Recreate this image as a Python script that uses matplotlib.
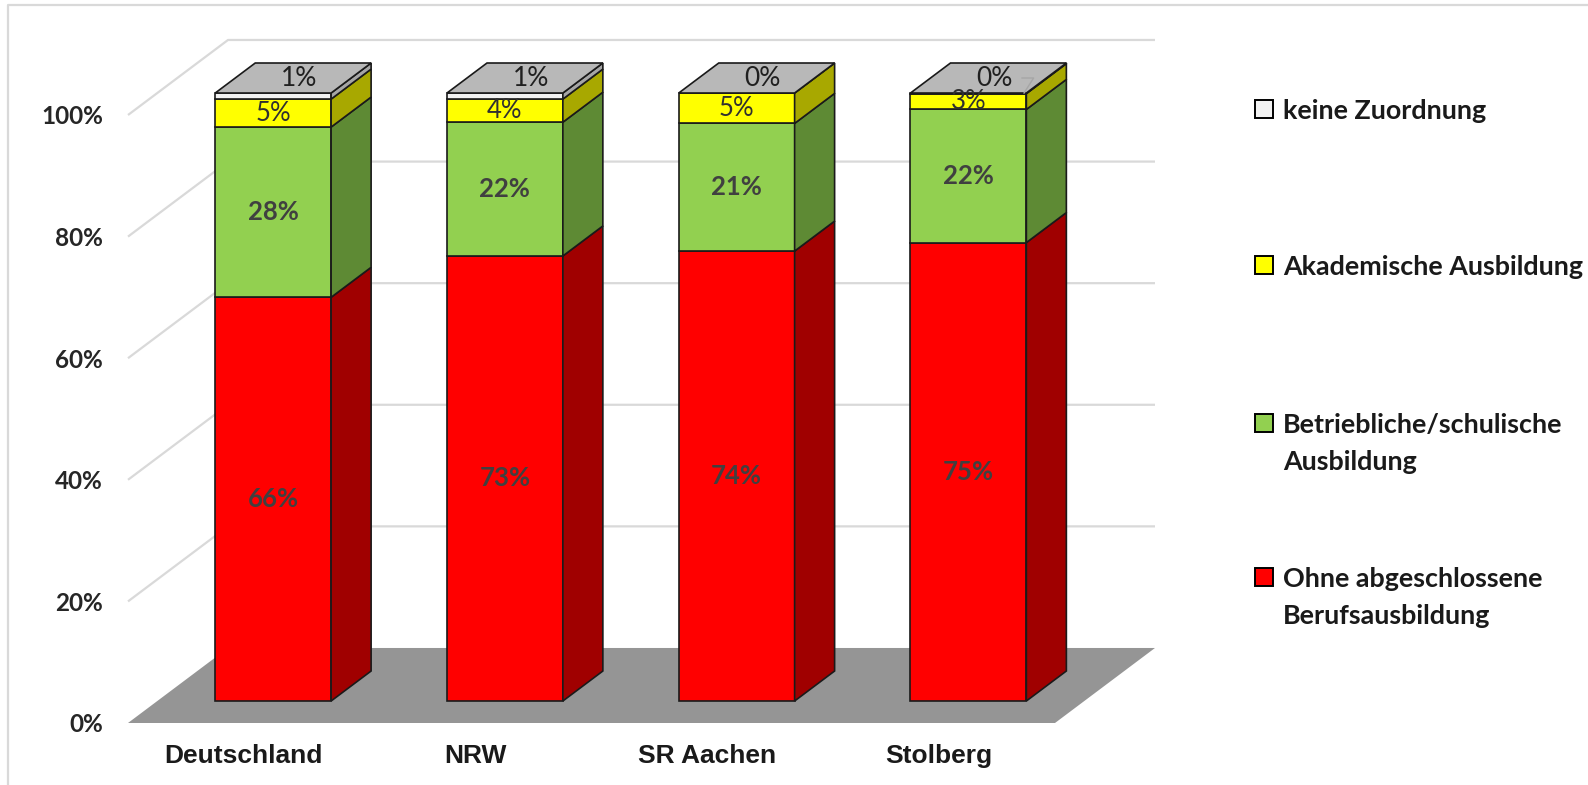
import matplotlib.pyplot as plt
from matplotlib.patches import Polygon, Rectangle
from matplotlib.lines import Line2D

categories = ["Deutschland", "NRW", "SR Aachen", "Stolberg"]
ohne = [66.4, 73.2, 74.0, 75.4]
betrieb = [28.0, 22.0, 21.0, 21.9]
akad = [4.6, 3.8, 5.0, 2.6]
keine = [1.0, 1.0, 0.0, 0.1]

series = [ohne, betrieb, akad, keine]
front_cols = ["#FF0000", "#92D050", "#FFFF00", "#F2F2F2"]
side_cols = ["#A00000", "#5E8A34", "#A8A800", "#A6A6A6"]
top_col = "#B8B8B8"
legend_names = ["keine Zuordnung", "Akademische Ausbildung",
                "Betriebliche/schulische\nAusbildung",
                "Ohne abgeschlossene\nBerufsausbildung"]
yticks = [0, 20, 40, 60, 80, 100]

# oblique depth: full floor depth in data units
DX, DY = 0.4315, 12.34
d0, d1 = 0.293, 0.693      # front / back of the bars inside the floor depth
bw = 0.5                   # bar width

fig = plt.figure(figsize=(15.88, 7.85), dpi=100)
ax = fig.add_axes([128 / 1588, 62 / 785, 927 / 1588, 608 / 785])
ax.set_xlim(-0.5, 3.5)
ax.set_ylim(0, 100)
for s in ax.spines.values():
    s.set_visible(False)


def proj(x, y, d):
    return (x + d * DX, y + d * DY)


# walls with gridlines
for v in yticks[1:]:
    xs = [-0.5, -0.5 + DX, 3.5 + DX]
    ys = [v, v + DY, v + DY]
    ax.plot(xs, ys, color="#D9D9D9", lw=1.6, zorder=1, clip_on=False,
            solid_capstyle="butt")

# floor
floor = Polygon([proj(-0.5, 0, 0), proj(3.5, 0, 0), proj(3.5, 0, 1), proj(-0.5, 0, 1)],
                closed=True, facecolor="#959595", edgecolor="none", zorder=2, clip_on=False)
ax.add_patch(floor)

ec = "#1A1A1A"
lw = 1.2
for i in range(len(categories)):
    base = 0
    x0 = i - bw / 2
    x1 = i + bw / 2
    for k, vals in enumerate(series):
        v = vals[i]
        top = base + v
        front = Polygon([proj(x0, base, d0), proj(x1, base, d0), proj(x1, top, d0), proj(x0, top, d0)],
                        closed=True, facecolor=front_cols[k], edgecolor=ec, lw=lw, zorder=3,
                        clip_on=False)
        side = Polygon([proj(x1, base, d0), proj(x1, base, d1), proj(x1, top, d1), proj(x1, top, d0)],
                       closed=True, facecolor=side_cols[k], edgecolor=ec, lw=lw, zorder=3,
                       clip_on=False)
        ax.add_patch(front)
        ax.add_patch(side)

        cx, cy = proj(i, base + v / 2, d0)
        lab = f"{round(v):.0f}%"
        if k < 2:
            ax.text(cx, cy, lab, ha="center", va="center", fontsize=18.5, fontweight="bold",
                    family="Lato", color="#404040", zorder=5)
        elif k == 2:
            ax.text(cx, cy, lab, ha="center", va="center", fontsize=18.5,
                    family="Lato", color="#303030", zorder=5)
        base = top

    # top face
    topf = Polygon([proj(x0, base, d0), proj(x1, base, d0), proj(x1, base, d1), proj(x0, base, d1)],
                   closed=True, facecolor=top_col, edgecolor=ec, lw=lw, zorder=4, clip_on=False)
    ax.add_patch(topf)
    tx, ty = proj(i + 0.025, base, (d0 + d1) / 2)
    ax.text(tx, ty, f"{round(keine[i]):.0f}%", ha="center", va="center", fontsize=19,
            family="Lato", color="#202020", zorder=5)
    if keine[i] > 0 and keine[i] < 0.5:
        cx, cy = proj(x1, base, d0)
        ax.plot([tx + 0.12, tx + 0.17, cx - 0.01], [ty, ty, cy], color="#A6A6A6",
                lw=1.0, zorder=5, clip_on=False)

ax.set_xticks(range(len(categories)))
ax.set_xticklabels(categories, fontsize=19, fontweight="bold", family="Liberation Sans",
                   color="#1A1A1A")
ax.set_yticks(yticks)
ax.set_yticklabels([f"{t}%" for t in yticks], fontsize=17.5, fontweight="bold", family="Lato",
                   color="#262626")
ax.tick_params(axis="x", length=0, pad=15)
ax.tick_params(axis="y", length=0, pad=18)

# legend on the right, one text per line
leg_y = [109, 265, 423, 577]
line_h = 37
for k, (name, yy) in enumerate(zip(legend_names, leg_y)):
    idx = 3 - k
    fig.add_artist(Rectangle((1255 / 1588, 1 - (yy + 9) / 785), 18 / 1588, 18 / 785,
                             transform=fig.transFigure, facecolor=front_cols[idx],
                             edgecolor="#000000", lw=1.4))
    for j, line in enumerate(name.split("\n")):
        fig.text(1283 / 1588, 1 - (yy + j * line_h) / 785, line, ha="left",
                 va="center_baseline", fontsize=19.4, fontweight="bold", family="Lato",
                 color="#1A1A1A")

# outer frame (top and left edges)
fig.add_artist(Line2D([8 / 1588, 8 / 1588, 1], [0, 1 - 5 / 785, 1 - 5 / 785],
                      transform=fig.transFigure, color="#D9D9D9", lw=1.6))

fig.savefig("out.png", dpi=100, facecolor="white")
